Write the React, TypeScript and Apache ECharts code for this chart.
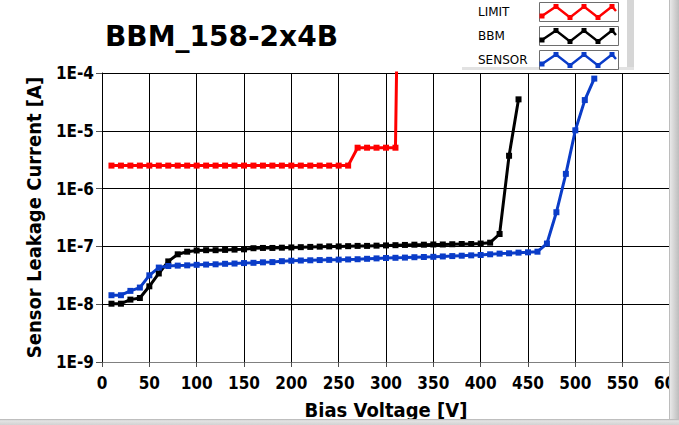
import React, { useEffect, useRef } from "react";
import * as echarts from "echarts";

const FONT = "'DejaVu Sans Condensed', 'DejaVu Sans', sans-serif";
const TITLE_FONT = "'DejaVu Sans', sans-serif";
const RED = "#ff0000";
const BLACK = "#000000";
const BLUE = "#0a3cc8";

const titleText = "BBM_158-2x4B";
const xAxisName = "Bias Voltage [V]";
const yAxisName = "Sensor Leakage Current [A]";
const seriesNames = ["LIMIT", "BBM", "SENSOR"];

const limitV = [10, 20, 30, 40, 50, 60, 70, 80, 90, 100, 110, 120, 130, 140, 150, 160, 170, 180, 190, 200, 210, 220, 230, 240, 250, 260, 270, 280, 290, 300, 310, 312];
const limitI = [2.5e-6, 2.5e-6, 2.5e-6, 2.5e-6, 2.5e-6, 2.5e-6, 2.5e-6, 2.5e-6, 2.5e-6, 2.5e-6, 2.5e-6, 2.5e-6, 2.5e-6, 2.5e-6, 2.5e-6, 2.5e-6, 2.5e-6, 2.5e-6, 2.5e-6, 2.5e-6, 2.5e-6, 2.5e-6, 2.5e-6, 2.5e-6, 2.5e-6, 2.5e-6, 5.1e-6, 5.1e-6, 5.1e-6, 5.1e-6, 5.1e-6, 1e-3];

const bbmV = [10, 20, 30, 40, 50, 60, 70, 80, 90, 100, 110, 120, 130, 140, 150, 160, 170, 180, 190, 200, 210, 220, 230, 240, 250, 260, 270, 280, 290, 300, 310, 320, 330, 340, 350, 360, 370, 380, 390, 400, 410, 420, 430, 440];
const bbmI = [1.02e-8, 1.02e-8, 1.2e-8, 1.28e-8, 2.04e-8, 3.4e-8, 5.5e-8, 7.3e-8, 8.1e-8, 8.5e-8, 8.6e-8, 8.6e-8, 8.7e-8, 8.8e-8, 8.9e-8, 9.3e-8, 9.4e-8, 9.4e-8, 9.5e-8, 9.6e-8, 9.7e-8, 9.8e-8, 9.9e-8, 1.0e-7, 1.0e-7, 1.01e-7, 1.02e-7, 1.02e-7, 1.03e-7, 1.04e-7, 1.05e-7, 1.06e-7, 1.07e-7, 1.07e-7, 1.08e-7, 1.08e-7, 1.09e-7, 1.1e-7, 1.1e-7, 1.12e-7, 1.16e-7, 1.64e-7, 3.7e-6, 3.5e-5];

const sensorV = [10, 20, 30, 40, 50, 60, 70, 80, 90, 100, 110, 120, 130, 140, 150, 160, 170, 180, 190, 200, 210, 220, 230, 240, 250, 260, 270, 280, 290, 300, 310, 320, 330, 340, 350, 360, 370, 380, 390, 400, 410, 420, 430, 440, 450, 460, 470, 480, 490, 500, 510, 520];
const sensorI = [1.43e-8, 1.43e-8, 1.7e-8, 1.94e-8, 3.16e-8, 4.3e-8, 4.58e-8, 4.65e-8, 4.7e-8, 4.8e-8, 4.85e-8, 4.9e-8, 5.0e-8, 5.05e-8, 5.15e-8, 5.2e-8, 5.3e-8, 5.35e-8, 5.55e-8, 5.65e-8, 5.7e-8, 5.75e-8, 5.8e-8, 5.85e-8, 5.9e-8, 5.95e-8, 6.0e-8, 6.1e-8, 6.2e-8, 6.3e-8, 6.35e-8, 6.4e-8, 6.5e-8, 6.55e-8, 6.6e-8, 6.7e-8, 6.8e-8, 6.9e-8, 7.0e-8, 7.1e-8, 7.3e-8, 7.5e-8, 7.6e-8, 7.8e-8, 7.9e-8, 8.1e-8, 1.12e-7, 3.9e-7, 1.8e-6, 1.02e-5, 3.4e-5, 8.0e-5];

const xMin = 0;
const xMax = 600;
const xStep = 50;
const yMin = 1e-9;
const yMax = 1e-4;

function pairs(v: number[], c: number[]) {
  return v.map((x, i) => [x, c[i]]);
}

function legendGraphics() {
  const colors = [RED, BLACK, BLUE];
  const boxX = 539;
  const boxW = 79;
  const boxH = 19;
  const boxYs = [2, 26, 50];
  const zig = [[3, 13], [17, 3.5], [31, 14.5], [45, 3.5], [59, 14.5], [73, 3.5], [77, 8]];
  const els: any[] = [];
  els.push({ type: "rect", shape: { x: 627, y: 0, width: 7, height: 69 }, style: { fill: "#d6d6d6" }, z: 100 });
  els.push({ type: "rect", shape: { x: 462, y: 67, width: 172, height: 3 }, style: { fill: "#e2e2e2" }, z: 100 });
  seriesNames.forEach((name, k) => {
    const by = boxYs[k];
    els.push({
      type: "text",
      x: 478,
      y: by + boxH / 2,
      style: { text: name, fill: "#000", font: "12px 'DejaVu Sans', sans-serif", textVerticalAlign: "middle", verticalAlign: "middle" },
      z: 101,
    });
    els.push({ type: "rect", shape: { x: boxX + 0.5, y: by + 0.5, width: boxW, height: boxH }, style: { fill: "#fff", stroke: "#6e6e6e", lineWidth: 1 }, z: 101 });
    els.push({
      type: "polyline",
      shape: { points: zig.map((p) => [boxX + p[0], by + p[1] + 1]) },
      style: { stroke: colors[k], lineWidth: 2.5, fill: "none" },
      z: 102,
    });
    zig.slice(0, 6).forEach((p) => {
      els.push({ type: "rect", shape: { x: boxX + p[0] - 2.5, y: by + p[1] + 1 - 2.5, width: 5, height: 5 }, style: { fill: colors[k] }, z: 103 });
    });
  });
  els.push({
    type: "rect",
    shape: { x: 669, y: 0, width: 10, height: 425 },
    style: {
      fill: new echarts.graphic.LinearGradient(0, 0, 1, 0, [
        { offset: 0, color: "#a8a8a8" },
        { offset: 0.15, color: "#e6e6e6" },
        { offset: 0.6, color: "#d0d0d0" },
        { offset: 1, color: "#bdbdbd" },
      ]),
    },
    z: 110,
  });
  els.push({
    type: "rect",
    shape: { x: 0, y: 419, width: 679, height: 6 },
    style: {
      fill: new echarts.graphic.LinearGradient(0, 0, 0, 1, [
        { offset: 0, color: "#b0b0b0" },
        { offset: 0.3, color: "#e4e4e4" },
        { offset: 1, color: "#d2d2d2" },
      ]),
    },
    z: 110,
  });
  return els;
}

export default function App() {
  const ref = useRef<HTMLDivElement>(null);
  useEffect(() => {
    document.body.style.margin = "0";
    const chart = echarts.init(ref.current!, null, { renderer: "svg" });
    const labelStyle = { fontFamily: FONT, fontWeight: "bold" as const, fontSize: 17, color: "#000" };
    const nameStyle = { fontFamily: FONT, fontWeight: "bold" as const, fontSize: 20, color: "#000" };
    const mkSeries = (name: string, data: number[][], color: string) => ({
      type: "line",
      name,
      data,
      symbol: "rect",
      symbolSize: 6,
      showAllSymbol: true,
      clip: true,
      lineStyle: { color, width: 3 },
      itemStyle: { color },
      emphasis: { disabled: true },
    });
    chart.setOption({
      animation: false,
      backgroundColor: "#ffffff",
      title: {
        text: titleText,
        left: 105,
        top: 22,
        padding: 0,
        textStyle: { fontFamily: TITLE_FONT, fontWeight: "bold", fontSize: 28, color: "#000" },
      },
      grid: { left: 102, top: 73, width: 568, height: 289, containLabel: false, outerBoundsMode: "none" },
      xAxis: {
        type: "value",
        min: xMin,
        max: xMax,
        interval: xStep,
        name: xAxisName,
        nameLocation: "middle",
        nameGap: 38,
        nameTextStyle: nameStyle,
        axisLine: { show: true, onZero: false, lineStyle: { color: "#808080", width: 1 } },
        axisTick: { show: true, inside: false, length: 5, lineStyle: { color: "#505050" } },
        axisLabel: { ...labelStyle, margin: 12 },
        splitLine: { show: true, lineStyle: { color: "#000", width: 1 } },
      },
      yAxis: {
        type: "log",
        logBase: 10,
        min: yMin,
        max: yMax,
        name: yAxisName,
        nameLocation: "middle",
        nameRotate: 90,
        nameGap: 58,
        nameTextStyle: nameStyle,
        axisLine: { show: true, lineStyle: { color: "#000", width: 1 } },
        axisTick: { show: true, inside: false, length: 6, lineStyle: { color: "#505050" } },
        axisLabel: {
          ...labelStyle,
          margin: 8,
          formatter: (v: number) => "1E" + Math.round(Math.log10(v)),
        },
        minorTick: { show: false },
        splitLine: { show: true, lineStyle: { color: "#000", width: 1 } },
      },
      series: [
        mkSeries(seriesNames[0], pairs(limitV, limitI), RED),
        mkSeries(seriesNames[1], pairs(bbmV, bbmI), BLACK),
        mkSeries(seriesNames[2], pairs(sensorV, sensorI), BLUE),
      ],
      graphic: legendGraphics(),
    });
    return () => chart.dispose();
  }, []);
  return <div ref={ref} style={{ position: "absolute", left: 0, top: 0, width: 679, height: 425 }} />;
}
